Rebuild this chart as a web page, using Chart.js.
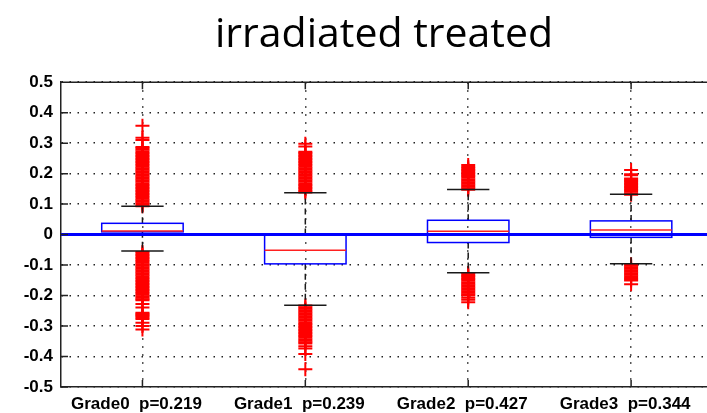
<!DOCTYPE html>
<html>
<head>
<meta charset="utf-8">
<script src="https://cdn.jsdelivr.net/npm/chart.js@4"></script>
<style>
  html, body { margin: 0; padding: 0; background: #fff; }
  #wrap { width: 707px; height: 413px; }
</style>
</head>
<body>
<div id="wrap"><canvas id="BoxChart"></canvas></div>
<script>
const grades = ['Grade0  p=0.219', 'Grade1  p=0.239', 'Grade2  p=0.427', 'Grade3  p=0.344'];
const gradePos = [1, 2, 3, 4];

// box statistics per grade
const q1 = [0.009, -0.096, -0.026, -0.009];
const median = [0.012, -0.051, 0.011, 0.015];
const q3 = [0.037, 0.0, 0.047, 0.045];
const whiskerLow = [-0.054, -0.232, -0.125, -0.096];
const whiskerHigh = [0.093, 0.137, 0.148, 0.132];

// outliers per grade
const outGrade0 = [
    0.093, 0.098, 0.103, 0.108, 0.113, 0.118, 0.123, 0.128, 0.133, 0.138, 0.143, 0.148, 0.153,
    0.158, 0.163, 0.168, 0.173, 0.178, 0.183, 0.188, 0.193, 0.198, 0.203, 0.208, 0.213, 0.218,
    0.223, 0.228, 0.233, 0.238, 0.243, 0.248, 0.253, 0.258, 0.263, 0.268, 0.273, 0.278, 0.283,
    0.287, 0.310, 0.318, 0.357,
    -0.057, -0.062, -0.067, -0.072, -0.077, -0.082, -0.087, -0.092, -0.097, -0.102, -0.107,
    -0.112, -0.117, -0.122, -0.127, -0.132, -0.137, -0.142, -0.147, -0.152, -0.157, -0.162,
    -0.167, -0.172, -0.177, -0.182, -0.187, -0.192, -0.197, -0.202, -0.207, -0.212, -0.215,
    -0.228, -0.239, -0.256, -0.260, -0.264, -0.268, -0.272, -0.277, -0.289, -0.300, -0.311
];
const outGrade1 = [
    0.138, 0.143, 0.148, 0.153, 0.158, 0.163, 0.168, 0.173, 0.178, 0.183, 0.188, 0.193, 0.198,
    0.203, 0.208, 0.213, 0.218, 0.223, 0.228, 0.233, 0.238, 0.243, 0.248, 0.253, 0.258, 0.263,
    0.268, 0.272, 0.289, 0.298,
    -0.233, -0.238, -0.243, -0.248, -0.253, -0.258, -0.263, -0.268, -0.273, -0.278, -0.283,
    -0.288, -0.293, -0.298, -0.303, -0.308, -0.313, -0.318, -0.323, -0.328, -0.333, -0.338,
    -0.343, -0.348, -0.353, -0.357, -0.366, -0.374, -0.392, -0.442
];
const outGrade2 = [
    0.147, 0.152, 0.157, 0.162, 0.167, 0.172, 0.177, 0.182, 0.187, 0.192, 0.197, 0.202, 0.207,
    0.212, 0.217, 0.222, 0.228,
    -0.126, -0.131, -0.136, -0.141, -0.146, -0.151, -0.156, -0.161, -0.166, -0.171, -0.176,
    -0.181, -0.186, -0.191, -0.196, -0.200, -0.207, -0.214, -0.222
];
const outGrade3 = [
    0.131, 0.136, 0.141, 0.146, 0.151, 0.156, 0.161, 0.166, 0.171, 0.176, 0.181, 0.184, 0.195,
    0.198, 0.212,
    -0.097, -0.102, -0.107, -0.112, -0.117, -0.122, -0.127, -0.132, -0.137, -0.142, -0.147,
    -0.151, -0.163
];
const outliers = [outGrade0, outGrade1, outGrade2, outGrade3];

const boxHalf = 0.25;
const capHalf = 0.13;

// draws boxes, medians, whiskers and the zero reference line
const boxPlugin = {
    id: 'boxPlugin',
    afterDatasetsDraw(chart) {
        const ctx = chart.ctx;
        const x = chart.scales.x;
        const y = chart.scales.y;
        const area = chart.chartArea;
        ctx.save();

        // whiskers
        ctx.strokeStyle = '#1a1a1a';
        ctx.lineWidth = 1.5;
        gradePos.forEach((p, i) => {
            const cx = x.getPixelForValue(p);
            ctx.setLineDash([6, 4]);
            ctx.beginPath();
            ctx.moveTo(cx, y.getPixelForValue(q3[i]));
            ctx.lineTo(cx, y.getPixelForValue(whiskerHigh[i]));
            ctx.moveTo(cx, y.getPixelForValue(q1[i]));
            ctx.lineTo(cx, y.getPixelForValue(whiskerLow[i]));
            ctx.stroke();
            ctx.setLineDash([]);
            ctx.beginPath();
            [whiskerHigh[i], whiskerLow[i]].forEach(v => {
                const py = y.getPixelForValue(v);
                ctx.moveTo(x.getPixelForValue(p - capHalf), py);
                ctx.lineTo(x.getPixelForValue(p + capHalf), py);
            });
            ctx.stroke();
        });

        // zero line
        ctx.strokeStyle = '#0000ff';
        ctx.lineWidth = 3;
        ctx.beginPath();
        ctx.moveTo(area.left, y.getPixelForValue(0));
        ctx.lineTo(area.right, y.getPixelForValue(0));
        ctx.stroke();

        // boxes and medians
        gradePos.forEach((p, i) => {
            const l = x.getPixelForValue(p - boxHalf);
            const r = x.getPixelForValue(p + boxHalf);
            const top = y.getPixelForValue(q3[i]);
            const bot = y.getPixelForValue(q1[i]);
            ctx.strokeStyle = '#0000ff';
            ctx.lineWidth = 1.5;
            ctx.strokeRect(l, top, r - l, bot - top);
            ctx.strokeStyle = '#ff2020';
            ctx.beginPath();
            ctx.moveTo(l, y.getPixelForValue(median[i]));
            ctx.lineTo(r, y.getPixelForValue(median[i]));
            ctx.stroke();
        });

        // axes box top edge and inward tick marks
        ctx.strokeStyle = '#222';
        ctx.lineWidth = 1.5;
        ctx.beginPath();
        ctx.moveTo(area.left, area.top);
        ctx.lineTo(area.right, area.top);
        gradePos.forEach(p => {
            const cx = x.getPixelForValue(p);
            ctx.moveTo(cx, area.top);
            ctx.lineTo(cx, area.top + 7);
            ctx.moveTo(cx, area.bottom);
            ctx.lineTo(cx, area.bottom - 7);
        });
        y.ticks.forEach(t => {
            const py = y.getPixelForValue(t.value);
            ctx.moveTo(area.left, py);
            ctx.lineTo(area.left + 7, py);
        });
        ctx.stroke();
        ctx.restore();
    }
};

const datasets = outliers.map((vals, i) => ({
    data: vals.map(v => ({ x: gradePos[i], y: v })),
    pointStyle: 'cross',
    pointRadius: 7,
    pointBorderWidth: 2,
    borderColor: '#ff0000',
    backgroundColor: '#ff0000',
    showLine: false
}));

const tickFont = { family: 'Liberation Sans', size: 17, weight: 'bold' };

new Chart(document.getElementById('BoxChart'), {
    type: 'scatter',
    data: { datasets: datasets },
    options: {
        responsive: true,
        maintainAspectRatio: false,
        animation: false,
        events: [],
        layout: { padding: 0, autoPadding: false },
        plugins: {
            legend: { display: false },
            tooltip: { enabled: false },
            title: {
                display: true,
                fullSize: false,
                text: 'irradiated treated',
                color: '#000',
                font: { family: 'Open Sans', size: 41, weight: 'normal' },
                padding: { top: 11, bottom: 22 }
            }
        },
        scales: {
            x: {
                type: 'linear',
                min: 0.5,
                max: 4.466,
                afterBuildTicks: s => { s.ticks = gradePos.map(v => ({ value: v })); },
                afterFit: s => { s.height = 26; },
                ticks: {
                    color: '#000',
                    font: tickFont,
                    padding: 7,
                    labelOffset: -6,
                    maxRotation: 0,
                    callback: v => grades[v - 1]
                },
                grid: { color: '#222', lineWidth: 1.5, drawTicks: false },
                border: { display: true, color: '#222', width: 1.5, dash: [1.5, 6.5] }
            },
            y: {
                min: -0.5,
                max: 0.5,
                afterFit: s => { s.width = 61; },
                ticks: {
                    stepSize: 0.1,
                    color: '#000',
                    font: tickFont,
                    padding: 8,
                    callback: v => {
                        const r = Math.round(v * 10) / 10;
                        return r === 0 ? '0' : r.toFixed(1);
                    }
                },
                grid: { color: '#222', lineWidth: 1.5, drawTicks: false },
                border: { display: true, color: '#222', width: 1.5, dash: [1.5, 6.5] }
            }
        }
    },
    plugins: [boxPlugin]
});
</script>
</body>
</html>
